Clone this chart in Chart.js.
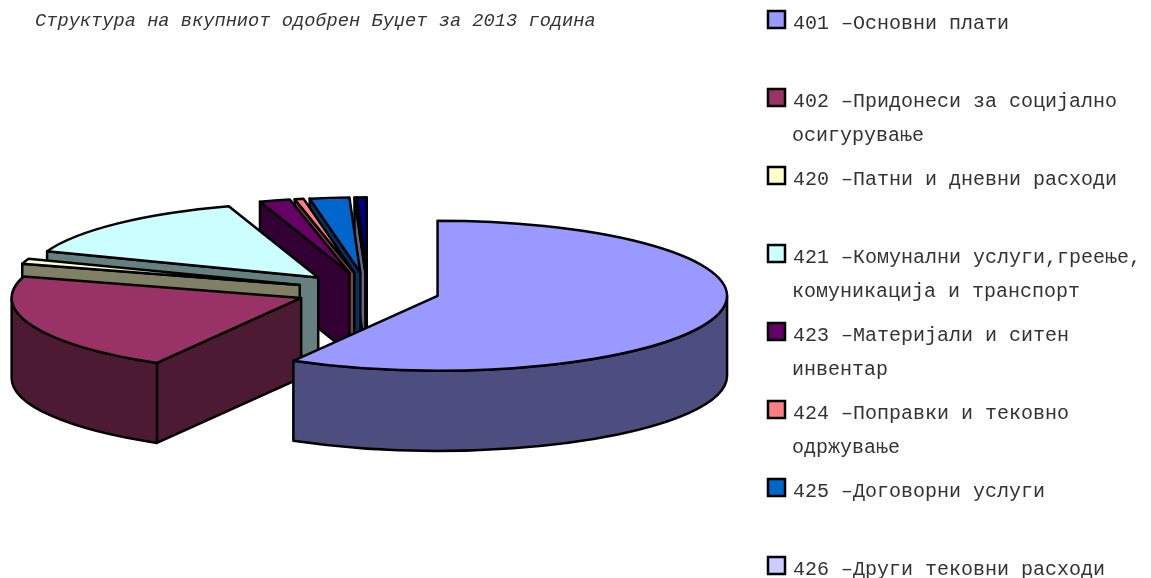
<!DOCTYPE html>
<html>
<head>
<meta charset="utf-8">
<style>html,body{margin:0;padding:0;background:#fff;overflow:hidden}canvas{display:block}</style>
<script src="https://cdn.jsdelivr.net/npm/chart.js@4/dist/chart.umd.min.js"></script>
</head>
<body>
<canvas id="c" width="1151" height="578"></canvas>
<script>
const chartTitle = "Структура на вкупниот одобрен Буџет за 2013 година";
const categories = [
  ["401 –Основни плати"],
  ["402 –Придонеси за социјално", "осигурување"],
  ["420 –Патни и дневни расходи"],
  ["421 –Комунални услуги,греење,", "комуникација и транспорт"],
  ["423 –Материјали и ситен", "инвентар"],
  ["424 –Поправки и тековно", "одржување"],
  ["425 –Договорни услуги"],
  ["426 –Други тековни расходи"],
  [""]
];
const shares = [58.3, 21.3, 1.1, 14.3, 1.7, 0.5, 2.2, 0.05, 0.55];
const topColors = ["#9999FF","#993366","#FFFFCC","#CCFFFF","#660066","#FF8080","#0066CC","#CCCCFF","#000080"];
const wallColors = ["#4D4D80","#4D1A33","#808066","#668080","#330033","#804040","#003366","#666680","#000040"];

const TILT = 0.259, DEPTH = 80, EXPLODE = 72, STROKE = 2.5;
const FONT = '"Liberation Mono", "Courier New", monospace';

const pie3d = {
  id: 'pie3d',
  beforeDatasetDraw(chart) {
    const ctx = chart.ctx;
    const arcs = chart.getDatasetMeta(0).data;
    ctx.save();
    ctx.lineWidth = STROKE;
    ctx.strokeStyle = '#000';
    ctx.lineJoin = 'round';
    for (let i = arcs.length - 1; i >= 0; i--) {
      const a = arcs[i];
      const s = a.startAngle, e = a.endAngle, r = a.outerRadius, m = (s + e) / 2;
      const px = a.x + EXPLODE * Math.cos(m);
      const py = a.y + EXPLODE * TILT * Math.sin(m);
      const ry = r * TILT;
      // radial walls that face the viewer
      [[s, Math.cos(s) < -1e-6], [e, Math.cos(e) > 1e-6]].forEach(([t, visible]) => {
        if (!visible) return;
        const ex = px + r * Math.cos(t), ey = py + ry * Math.sin(t);
        ctx.beginPath();
        ctx.moveTo(px, py); ctx.lineTo(ex, ey);
        ctx.lineTo(ex, ey + DEPTH); ctx.lineTo(px, py + DEPTH);
        ctx.closePath();
        ctx.fillStyle = wallColors[i];
        ctx.fill(); ctx.stroke();
      });
      // outer wall (front half only)
      const v0 = Math.max(s, 0), v1 = Math.min(e, Math.PI);
      if (v1 > v0) {
        ctx.beginPath();
        ctx.ellipse(px, py, r, ry, 0, v0, v1, false);
        ctx.ellipse(px, py + DEPTH, r, ry, 0, v1, v0, true);
        ctx.closePath();
        ctx.fillStyle = wallColors[i];
        ctx.fill(); ctx.stroke();
      }
      // top face: the library's own arc, squashed
      ctx.save();
      ctx.translate(px, py);
      ctx.scale(1, TILT);
      ctx.translate(-a.x, -a.y);
      a.draw(ctx);
      ctx.restore();
      ctx.beginPath();
      ctx.moveTo(px, py);
      ctx.ellipse(px, py, r, ry, 0, s, e, false);
      ctx.closePath();
      ctx.stroke();
    }
    ctx.restore();
    return false;
  },
  afterDraw(chart) {
    const ctx = chart.ctx;
    ctx.save();
    ctx.textBaseline = 'alphabetic';
    ctx.fillStyle = '#333';
    ctx.font = 'italic 18.7px ' + FONT;
    ctx.fillText(chartTitle, 35, 26);
    ctx.font = '20px ' + FONT;
    categories.forEach((lines, i) => {
      if (!lines[0]) return;
      const y = 11 + 78 * i;
      ctx.fillStyle = topColors[i];
      ctx.strokeStyle = '#000';
      ctx.lineWidth = 2.5;
      ctx.fillRect(768, y, 17, 17);
      ctx.strokeRect(768, y, 17, 17);
      ctx.fillStyle = '#333';
      lines.forEach((t, j) => ctx.fillText(t, j ? 792 : 793, y + 18 + 34 * j));
    });
    ctx.restore();
  }
};

new Chart(document.getElementById('c'), {
  type: 'pie',
  data: {
    labels: categories,
    datasets: [{
      data: shares,
      backgroundColor: topColors,
      borderWidth: 0,
      offset: 0,
      hoverOffset: 0
    }]
  },
  options: {
    responsive: false,
    animation: false,
    radius: 289.5,
    layout: { padding: { left: 0, right: 415, top: 4, bottom: 0 } },
    plugins: { legend: { display: false }, title: { display: false }, tooltip: { enabled: false } },
    events: []
  },
  plugins: [pie3d]
});
</script>
</body>
</html>
